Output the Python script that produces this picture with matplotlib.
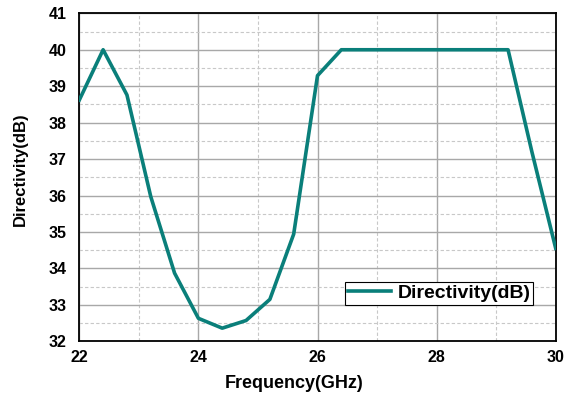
import matplotlib
matplotlib.use('Agg')
import matplotlib.pyplot as plt
from matplotlib.ticker import MultipleLocator

plt.rcParams['font.family'] = ['Liberation Sans', 'DejaVu Sans']
plt.rcParams['font.weight'] = 'bold'

# frequency points (GHz) and directivity (dB)
freq = [22.0, 22.4, 22.8, 23.2, 23.6, 24.0, 24.4, 24.8, 25.2, 25.6, 26.0,
        26.4, 26.8, 27.2, 27.6, 28.0, 28.4, 28.8, 29.2, 29.6, 30.0]
directivity = [38.62, 40.0, 38.76, 35.97, 33.87, 32.63, 32.36, 32.57, 33.15, 34.94, 39.29,
               40.0, 40.0, 40.0, 40.0, 40.0, 40.0, 40.0, 40.0, 37.2, 34.55]
xticks = [22, 24, 26, 28, 30]
yticks = list(range(32, 42))

fig = plt.figure(figsize=(5.64, 3.94), dpi=100)
ax = fig.add_axes([0.1406, 0.1338, 0.8447, 0.8324])

ax.plot(freq, directivity, color='#0a7f7a', lw=2.6, label='Directivity(dB)', zorder=3)

ax.set_xlim(22, 30)
ax.set_ylim(32, 41)
ax.set_xticks(xticks)
ax.set_yticks(yticks)
ax.xaxis.set_minor_locator(MultipleLocator(1))
ax.yaxis.set_minor_locator(MultipleLocator(0.5))
ax.grid(which='major', color='#a8a8a8', lw=1.0, ls='-')
ax.grid(which='minor', color='#c8c8c8', lw=0.8, ls=(0, (3, 2)))
ax.tick_params(which='both', length=0, labelsize=11.5)
ax.tick_params(axis='y', pad=9)
ax.tick_params(axis='x', pad=6)
for lbl in ax.get_xticklabels() + ax.get_yticklabels():
    lbl.set_fontweight('bold')
for sp in ax.spines.values():
    sp.set_linewidth(1.3)
    sp.set_color('black')

ax.set_xlabel('Frequency(GHz)', fontsize=13, fontweight='bold', va='top')
ax.xaxis.set_label_coords(0.4507, -0.102)
ax.set_ylabel('Directivity(dB)', fontsize=12, fontweight='bold', va='center')
ax.yaxis.set_label_coords(-0.1245, 0.525)

leg = ax.legend(loc='lower right', bbox_to_anchor=(0.953, 0.11), borderaxespad=0,
                fancybox=False, edgecolor='black', framealpha=1, handlelength=2.2,
                prop={'weight': 'bold', 'size': 14}, borderpad=0.15, handletextpad=0.35)
leg.get_frame().set_linewidth(0.8)

fig.savefig('out.png', dpi=100)
